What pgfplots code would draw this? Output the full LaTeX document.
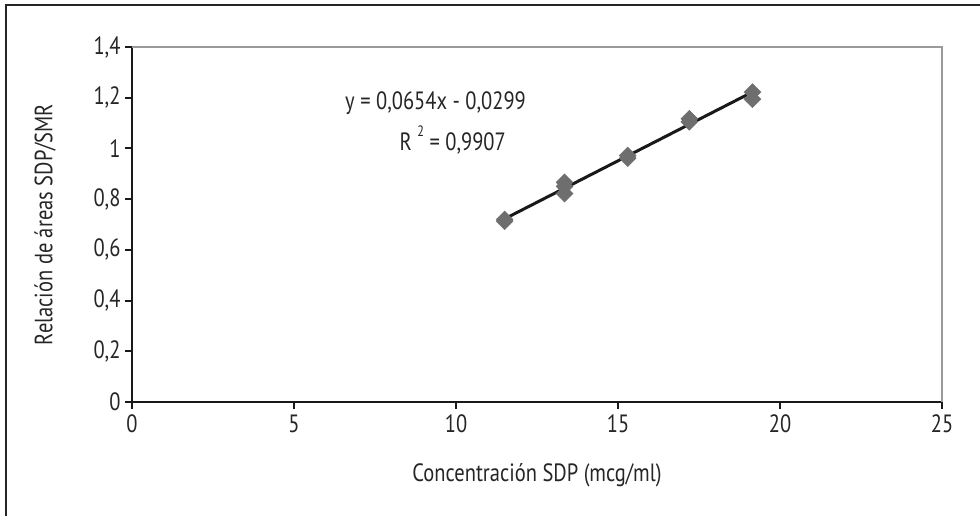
\documentclass[border=0pt]{standalone}
\usepackage{pgfplots}
\pgfplotsset{compat=1.18}
\usepackage{fontspec}
\setmainfont[FakeStretch=0.82]{PT Sans}
\definecolor{markgray}{HTML}{6E6E6E}
\definecolor{framegray}{HTML}{9A9A9A}
\newcommand{\fs}{\fontsize{25bp}{29bp}\selectfont}
\begin{document}
\begin{tikzpicture}[x=1bp,y=1bp]
\useasboundingbox (0,0) rectangle (980,516);
\fill[white] (0,0) rectangle (980,516);
\draw[line width=2.5bp,color=black!85] (6,0) -- (6,511) -- (980,511);
\begin{axis}[
  at={(132bp,114bp)}, anchor=origin,
  scale only axis, width=810bp, height=355bp,
  xmin=0, xmax=25, ymin=0, ymax=1.4,
  xtick={0,5,10,15,20,25},
  ytick={0,0.2,0.4,0.6,0.8,1,1.2,1.4},
  axis x line*=bottom, axis y line*=left,
  axis line style={line width=2.5bp, black!90, -},
  tick align=outside, major tick length=7bp,
  tick style={line width=2bp, black!90},
  /pgf/number format/assume math mode=true,
  /pgf/number format/use comma,
  ticklabel style={font=\fs, text=black!85},
  xticklabel style={yshift=-2bp},
  yticklabel style={xshift=-1bp},
  xlabel={Concentración SDP (mcg/ml)},
  ylabel={Relación de áreas SDP/SMR},
  label style={font=\fs, text=black!85},
  xlabel style={at={(axis description cs:0.5,-0.2056)}, anchor=center},
  ylabel style={at={(axis description cs:-0.1074,0.5)}, anchor=center, rotate=0},
  clip=false,
]
\draw[framegray, line width=2.5bp] (rel axis cs:0,1) -- (rel axis cs:1,1) -- (rel axis cs:1,0);
\addplot[only marks, mark=square*, mark size=6bp, mark options={rotate=45, fill=markgray, draw=markgray}] coordinates {
  (11.5,0.713) (11.5,0.720)
  (13.35,0.822) (13.35,0.850) (13.35,0.866)
  (15.3,0.962) (15.3,0.972)
  (17.2,1.105) (17.2,1.117)
  (19.15,1.194) (19.15,1.222)
};
\addplot[black!90, line width=3bp] coordinates {(11.5,0.7222) (19.15,1.2225)};
\node[text=black!85, font=\fs] at (axis cs:9.37,1.179) {y = 0,0654x - 0,0299};
\node[text=black!85, font=\fs] at (axis cs:9.9,1.033) {R \raisebox{0.55em}{\fontsize{15bp}{17bp}\selectfont 2} = 0,9907};
\end{axis}
\end{tikzpicture}
\end{document}
